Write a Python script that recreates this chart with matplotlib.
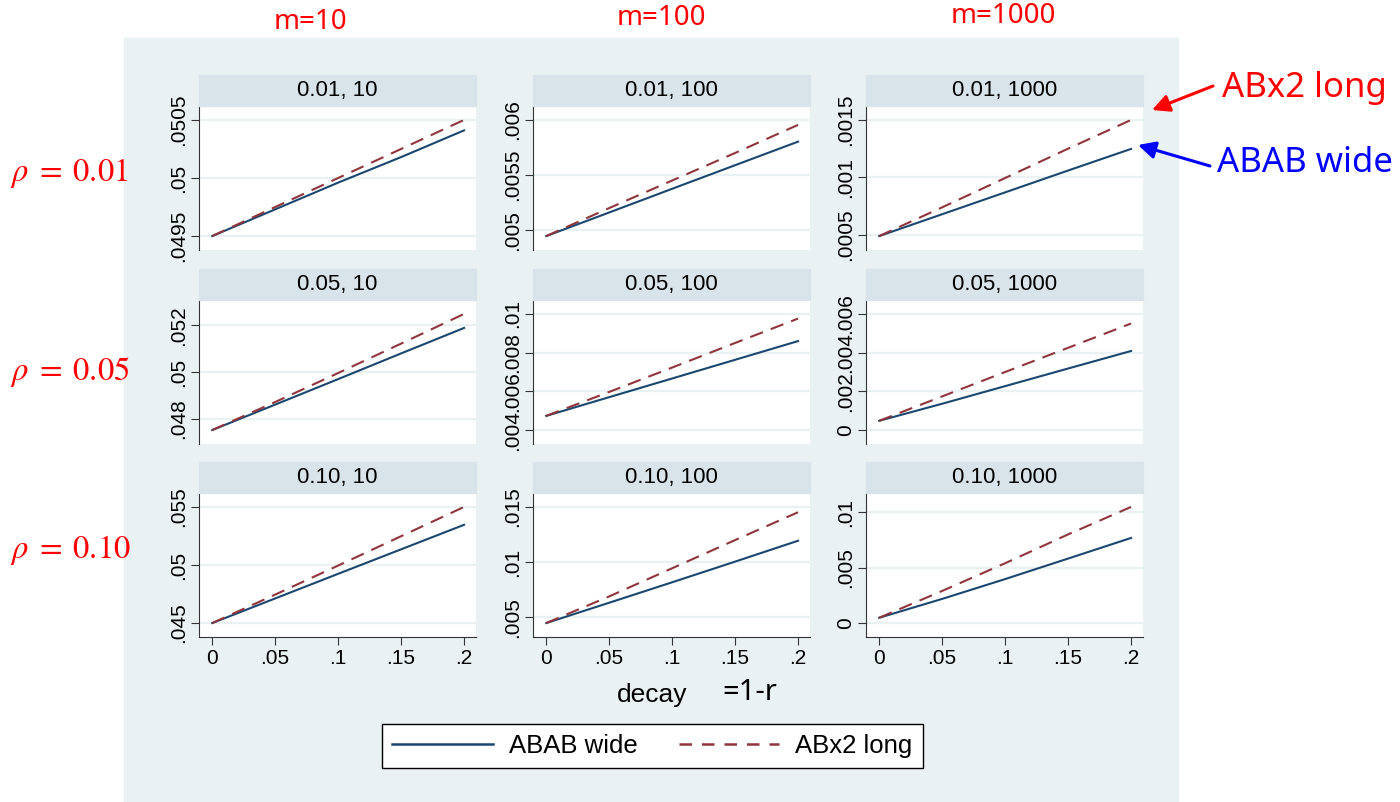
#!/usr/bin/env python3
"""Stata-style 3x3 by-graph: ABAB wide vs ABx2 long against decay."""

import matplotlib

matplotlib.use("Agg")
import matplotlib.pyplot as plt  # type: ignore
import matplotlib.patches as mpatches  # type: ignore
from matplotlib.lines import Line2D  # type: ignore

W, H = 1400, 802

decay = [0, 0.05, 0.1, 0.15, 0.2]
rho_labels = ["0.01", "0.05", "0.10"]
m_labels = ["10", "100", "1000"]

# one list per rho row, one inner list per m column
wide_rho01 = [
    [0.0495, 0.04973, 0.04996, 0.05018, 0.05041],
    [0.004946, 0.00516, 0.005375, 0.005589, 0.005803],
    [0.00049, 0.00068, 0.00087, 0.00106, 0.001248],
]
long_rho01 = [
    [0.0495, 0.04975, 0.05, 0.05025, 0.0505],
    [0.004946, 0.0052, 0.00545, 0.0057, 0.005955],
    [0.00049, 0.00074, 0.000995, 0.00125, 0.0015],
]
wide_rho05 = [
    [0.04752, 0.04861, 0.0497, 0.0508, 0.05189],
    [0.004733, 0.0057, 0.006665, 0.00763, 0.008597],
    [0.000479, 0.00136, 0.00227, 0.00318, 0.004085],
]
long_rho05 = [
    [0.04752, 0.04872, 0.04996, 0.05122, 0.05249],
    [0.004733, 0.00597, 0.00723, 0.0085, 0.00976],
    [0.000479, 0.00174, 0.003, 0.00425, 0.005504],
]
wide_rho10 = [
    [0.045, 0.04712, 0.04924, 0.05135, 0.05346],
    [0.00449, 0.00633, 0.00818, 0.01005, 0.01194],
    [0.00048, 0.00218, 0.00397, 0.00582, 0.00768],
]
long_rho10 = [
    [0.045, 0.04745, 0.04995, 0.05248, 0.055],
    [0.00449, 0.0069, 0.00945, 0.012, 0.01452],
    [0.00048, 0.0029, 0.0054, 0.008, 0.01048],
]

yticks_rho01 = [[0.0495, 0.05, 0.0505], [0.005, 0.0055, 0.006], [0.0005, 0.001, 0.0015]]
yticks_rho05 = [[0.048, 0.05, 0.052], [0.004, 0.006, 0.008, 0.01], [0, 0.002, 0.004, 0.006]]
yticks_rho10 = [[0.045, 0.05, 0.055], [0.005, 0.01, 0.015], [0, 0.005, 0.01]]
xticks = [0, 0.05, 0.1, 0.15, 0.2]

NAVY = "#1a476f"
MAROON = "#90353b"
BG = "#e9f1f3"
STRIP = "#d8e4ea"


def fx(x):
    return x / W


def fy(y):
    return 1 - y / H


def stata(v):
    """Stata-like tick label: drop the leading zero."""
    s = f"{v:g}"
    return s[1:] if s.startswith("0.") else s


def main():
    plt.rcParams["font.family"] = ["Liberation Sans", "DejaVu Sans"]
    plt.rcParams["mathtext.fontset"] = "stix"
    fig = plt.figure(figsize=(W / 100, H / 100), dpi=100)

    # graph region
    fig.add_artist(mpatches.Rectangle((fx(124), 0), fx(1178 - 124), fy(38),
                                      transform=fig.transFigure, color=BG,
                                      zorder=-10))

    wide = [wide_rho01, wide_rho05, wide_rho10]
    long_ = [long_rho01, long_rho05, long_rho10]
    yticks = [yticks_rho01, yticks_rho05, yticks_rho10]

    col_left = [199, 533, 866]
    row_top = [75, 269, 462]
    pw, head_h, plot_h = 277, 31, 144

    for i in range(3):
        for j in range(3):
            left, top = col_left[j], row_top[i]
            fig.add_artist(mpatches.Rectangle(
                (fx(left), fy(top + head_h)), pw / W, head_h / H,
                transform=fig.transFigure, color=STRIP, zorder=1))
            fig.text(fx(left + pw / 2), fy(top + head_h / 2),
                     f"{rho_labels[i]}, {m_labels[j]}", ha="center",
                     va="center", fontsize=16)
            ax = fig.add_axes([fx(left), fy(top + head_h + plot_h),
                               pw / W, plot_h / H])
            ax.set_facecolor("white")
            ys = wide[i][j]
            yl = long_[i][j]
            tk = yticks[i][j]
            ax.plot(decay, ys, color=NAVY, lw=1.5, zorder=3)
            ax.plot(decay, yl, color=MAROON, lw=1.5, dashes=(6.5, 4), zorder=3)
            lo = min(min(ys), min(yl), min(tk))
            hi = max(max(ys), max(yl), max(tk))
            pad = 0.12 * (hi - lo)
            ax.set_ylim(lo - pad, hi + pad)
            ax.set_xlim(-0.0105, 0.2095)
            ax.set_yticks(tk)
            ax.set_yticklabels([stata(v) for v in tk], rotation=90,
                               va="center", fontsize=15)
            ax.grid(axis="y", color=BG, lw=1.6)
            ax.set_axisbelow(True)
            for s in ("top", "right"):
                ax.spines[s].set_visible(False)
            ax.spines["left"].set_color("#333333")
            ax.tick_params(axis="y", length=6, color="#333333", pad=2)
            if i == 2:
                ax.set_xticks(xticks)
                ax.set_xticklabels([stata(v) for v in xticks], fontsize=15)
                ax.spines["bottom"].set_color("#333333")
                ax.tick_params(axis="x", length=6, color="#333333", pad=3)
            else:
                ax.spines["bottom"].set_visible(False)
                ax.set_xticks([])

    # axis title
    fig.text(fx(652), fy(695), "decay", ha="center", va="center", fontsize=19)
    fig.text(fx(722), fy(692), "=1-r", ha="left", va="center", fontsize=21,
             family="Noto Sans")

    # legend
    handles = [Line2D([], [], color=NAVY, lw=1.8),
               Line2D([], [], color=MAROON, lw=1.8, dashes=(5, 4))]
    leg = fig.legend(handles, ["ABAB wide", "ABx2 long"], loc="center",
                     bbox_to_anchor=(fx(652.5), fy(746)), ncol=2,
                     fontsize=18.5, handlelength=3.9, handletextpad=0.62,
                     columnspacing=1.63, borderpad=0.4, fancybox=False,
                     framealpha=1, edgecolor="black")
    leg.get_frame().set_linewidth(1.0)

    # annotations outside the graph
    for x, y, txt in [(310, 22, "m=10"), (661, 18, "m=100"), (1003, 16, "m=1000")]:
        fig.text(fx(x), fy(y), txt, ha="center", va="center", color="red",
                 fontsize=20, family="Noto Sans")
    for y, r in zip([173, 372, 550], rho_labels):
        fig.text(fx(10), fy(y), rf"$\rho\;=\;{r}$", ha="left", va="center",
                 color="red", fontsize=23.5)

    fig.text(fx(1222), fy(88), "ABx2 long", ha="left", va="center",
             color="red", fontsize=25, family="Noto Sans")
    fig.text(fx(1217), fy(163), "ABAB wide", ha="left", va="center",
             color="blue", fontsize=25, family="Noto Sans")
    fig.add_artist(mpatches.FancyArrowPatch(
        (fx(1213), fy(86)), (fx(1152), fy(110)), transform=fig.transFigure,
        arrowstyle="-|>", mutation_scale=26, color="red", lw=2.2,
        shrinkA=0, shrinkB=0))
    fig.add_artist(mpatches.FancyArrowPatch(
        (fx(1210), fy(166)), (fx(1138), fy(145)), transform=fig.transFigure,
        arrowstyle="-|>", mutation_scale=26, color="blue", lw=2.2,
        shrinkA=0, shrinkB=0))

    fig.savefig("out.png", dpi=100)


if __name__ == "__main__":
    main()
